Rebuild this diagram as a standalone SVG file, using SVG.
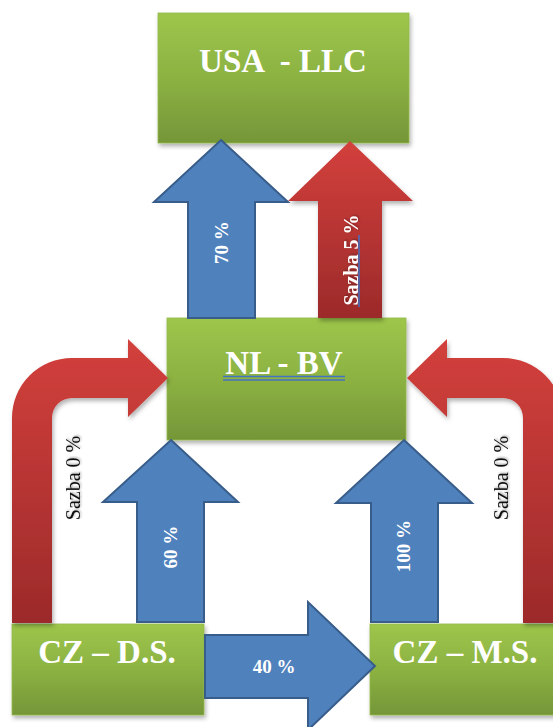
<svg xmlns="http://www.w3.org/2000/svg" width="553" height="727" viewBox="0 0 553 727">
  <defs>
    <linearGradient id="gGreen" x1="0" y1="0" x2="0" y2="1">
      <stop offset="0" stop-color="#9dc64b"/>
      <stop offset="0.5" stop-color="#8cb242"/>
      <stop offset="1" stop-color="#759638"/>
    </linearGradient>
    <linearGradient id="gRed" x1="0" y1="0" x2="0" y2="1">
      <stop offset="0" stop-color="#d3403c"/>
      <stop offset="1" stop-color="#9c2a2a"/>
    </linearGradient>
    <filter id="shadow" x="-10%" y="-10%" width="125%" height="130%">
      <feDropShadow dx="1.5" dy="3" stdDeviation="2" flood-color="#000" flood-opacity="0.3"/>
    </filter>
    <filter id="txtShadow" x="-20%" y="-20%" width="140%" height="140%">
      <feDropShadow dx="1" dy="1" stdDeviation="0.8" flood-color="#000" flood-opacity="0.35"/>
    </filter>
    <style>
      .box { fill: url(#gGreen); stroke: #93b94c; stroke-width: 0.8; filter: url(#shadow); }
      .boxText { font-family: "Liberation Serif", "Times New Roman", serif; font-weight: bold; font-size: 33px; fill: #ffffff; text-anchor: middle; }
      .blue { fill: #4f81bd; stroke: #385d8a; stroke-width: 2; stroke-linejoin: miter; }
      .red { fill: url(#gRed); filter: url(#shadow); }
      .pct { font-family: "Liberation Serif", "Times New Roman", serif; font-weight: bold; font-size: 19px; fill: #ffffff; text-anchor: middle; }
      .rate { font-family: "Liberation Serif", "Times New Roman", serif; font-size: 20px; fill: #111111; text-anchor: middle; filter: url(#txtShadow); }
      .rateW { font-family: "Liberation Serif", "Times New Roman", serif; font-weight: bold; font-size: 20px; fill: #ffffff; text-anchor: middle; filter: url(#txtShadow); }
      .uline { stroke: #4472c4; stroke-width: 1.5; }
    </style>
  </defs>

  <rect width="553" height="727" fill="#ffffff"/>

  <!-- Company boxes -->
  <g id="usa-llc">
    <rect class="box" x="158" y="13" width="251" height="130"/>
    <text class="boxText" x="283" y="72" xml:space="preserve">USA  - LLC</text>
  </g>

  <g id="nl-bv">
    <rect class="box" x="167" y="318" width="239" height="122"/>
    <text class="boxText" x="284" y="374" font-size="32">NL - BV</text>
    <line class="uline" x1="223" y1="376.5" x2="345" y2="376.5"/>
    <line class="uline" x1="223" y1="380" x2="345" y2="380"/>
  </g>

  <g id="cz-ds">
    <rect class="box" x="12" y="624" width="192" height="91"/>
    <text class="boxText" x="107" y="663">CZ – D.S.</text>
  </g>

  <g id="cz-ms">
    <rect class="box" x="370" y="624" width="192" height="91"/>
    <text class="boxText" x="465" y="663">CZ – M.S.</text>
  </g>

  <!-- Flows between the companies -->
  <g id="connectors">
    <!-- NL -> USA dividend share -->
    <path class="blue" d="M221,140 L288,202 L255,202 L255,318 L188,318 L188,202 L154,202 Z"/>
    <text class="pct" transform="translate(221,242.5) rotate(-90)" dy="0.35em">70 %</text>

    <!-- NL -> USA withholding rate -->
    <path class="red" d="M350,141 L413,201 L382,201 L382,318 L318,318 L318,201 L288,201 Z"/>
    <text class="rateW" transform="translate(351,260) rotate(-90)" dy="0.35em">Sazba 5 %</text>
    <line class="uline" x1="359" y1="235" x2="359" y2="307"/>

    <!-- CZ D.S. -> NL (rate, bent) -->
    <path class="red" d="M12,623 L12,418 A60,60 0 0 1 72,358 L128,358 L128,339 L168,378 L128,417 L128,398 L72,398 A20,20 0 0 0 52,418 L52,623 Z"/>
    <text class="rate" transform="translate(73,478) rotate(-90)" dy="0.35em">Sazba 0 %</text>

    <!-- CZ M.S. -> NL (rate, bent) -->
    <path class="red" d="M563,623 L563,418 A60,60 0 0 0 503,358 L447,358 L447,339 L407,378 L447,417 L447,398 L503,398 A20,20 0 0 1 523,418 L523,623 Z"/>
    <text class="rate" transform="translate(501,478) rotate(-90)" dy="0.35em">Sazba 0 %</text>

    <!-- CZ D.S. -> NL share -->
    <path class="blue" d="M171,440 L238,502 L204,502 L204,622 L137,622 L137,502 L103,502 Z"/>
    <text class="pct" transform="translate(170,547) rotate(-90)" dy="0.35em">60 %</text>

    <!-- CZ M.S. -> NL share -->
    <path class="blue" d="M404,440 L472,503 L438,503 L438,622 L371,622 L371,503 L336,503 Z"/>
    <text class="pct" transform="translate(403,546) rotate(-90)" dy="0.35em">100 %</text>

    <!-- CZ D.S. -> CZ M.S. share -->
    <path class="blue" d="M205,635 L308,635 L308,602 L375,666 L308,730 L308,698 L205,698 Z"/>
    <text class="pct" x="274" y="673">40 %</text>
  </g>
</svg>
